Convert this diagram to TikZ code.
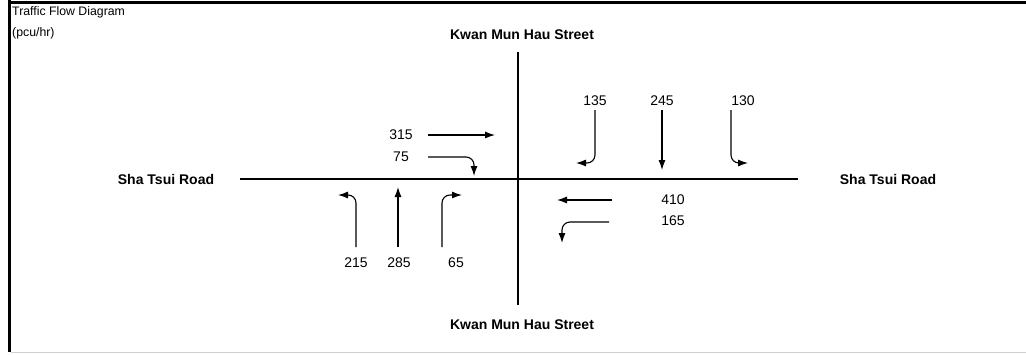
\documentclass[tikz,border=0pt]{standalone}
\usepackage{fontspec}
\setmainfont{Liberation Sans}
\usetikzlibrary{arrows.meta}
\begin{document}
\begin{tikzpicture}[x=1pt,y=-1pt,
  road/.style={line width=1.2pt},
  flow/.style={line width=1.1pt,rounded corners=8pt,-{Latex[length=10pt,width=7pt]}},
  vol/.style={font=\fontsize{14}{16}\selectfont,inner sep=0pt},
  street/.style={font=\fontsize{14}{16}\selectfont\bfseries,inner sep=0pt},
  note/.style={font=\fontsize{12.3}{14}\selectfont,inner sep=0pt,anchor=west}]
\useasboundingbox (0,0) rectangle (1026,354);
% frame
\draw[line width=3.2pt] (9.3,0) -- (9.3,352);
\draw[line width=3pt] (8,2.7) -- (1026,2.7);
\draw[line width=1.2pt,black!18] (11,352.8) -- (1026,352.8);
% heading
\node[note] (title) at (12,12) {Traffic Flow Diagram};
\node[note] (unit) at (12,33) {(pcu/hr)};
% road centre lines
\coordinate (rw) at (240,179);
\coordinate (re) at (798,179);
\coordinate (sn) at (518,52);
\coordinate (ss) at (518,305);
\draw[road] (rw) -- (re);
\draw[road] (sn) -- (ss);
% street names
\node[street] (kmtop) at (522,35) {Kwan Mun Hau Street};
\node[street] (kmbot) at (522,325) {Kwan Mun Hau Street};
\node[street] (stw) at (166,179) {Sha Tsui Road};
\node[street] (ste) at (888,179) {Sha Tsui Road};
% eastbound approach
\node[vol] (v315) at (401,135) {315};
\node[vol] (v75) at (401,157) {75};
\coordinate (s315) at (428,135);
\coordinate (e315) at (495,135);
\coordinate (s75) at (428,157);
\coordinate (e75) at (474,176);
\draw[flow] (s315) -- (e315);
\draw[flow] (s75) -| (e75);
% northbound approach
\node[vol] (v215) at (356,263) {215};
\node[vol] (v285) at (399,263) {285};
\node[vol] (v65) at (456,263) {65};
\coordinate (s215) at (356,247);
\coordinate (e215) at (338,195);
\coordinate (s285) at (398,247);
\coordinate (e285) at (398,187);
\coordinate (s65) at (442,247);
\coordinate (e65) at (462,195);
\draw[flow] (s215) |- (e215);
\draw[flow] (s285) -- (e285);
\draw[flow] (s65) |- (e65);
% southbound approach
\node[vol] (v135) at (595,101) {135};
\node[vol] (v245) at (662,101) {245};
\node[vol] (v130) at (743,101) {130};
\coordinate (s135) at (595,110);
\coordinate (e135) at (576,163);
\coordinate (s245) at (662,110);
\coordinate (e245) at (662,170);
\coordinate (s130) at (731,110);
\coordinate (e130) at (748,163);
\draw[flow] (s135) |- (e135);
\draw[flow] (s245) -- (e245);
\draw[flow] (s130) |- (e130);
% westbound approach
\node[vol] (v410) at (673,200) {410};
\node[vol] (v165) at (673,221) {165};
\coordinate (s410) at (612,200);
\coordinate (e410) at (557,200);
\coordinate (s165) at (609,222);
\coordinate (e165) at (562,243);
\draw[flow] (s410) -- (e410);
\draw[flow] (s165) -| (e165);
\end{tikzpicture}
\end{document}
